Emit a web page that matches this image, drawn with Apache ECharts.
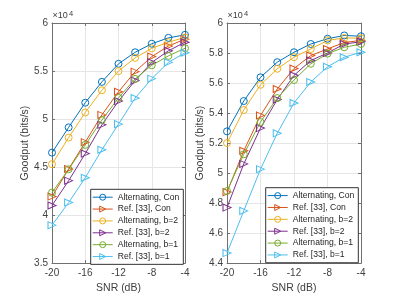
<!DOCTYPE html>
<html><head><meta charset="utf-8">
<script src="https://cdn.jsdelivr.net/npm/echarts@6/dist/echarts.min.js"></script>
<style>html,body{margin:0;padding:0;background:#fff}#c{width:399px;height:299px}</style>
</head><body><div id="c"></div>
<script>
// SNR (dB) categories on the x axis
const snr = [-20, -18, -16, -14, -12, -10, -8, -6, -4];
const seriesNames = ['Alternating, Con', 'Ref. [33], Con', 'Alternating, b=2', 'Ref. [33], b=2', 'Alternating, b=1', 'Ref. [33], b=1'];
const seriesColors = ['#0072BD', '#D95319', '#EDB120', '#7E2F8E', '#77AC30', '#4DBEEE'];
const seriesMarkers = ['circle', 'triangle', 'circle', 'triangle', 'circle', 'triangle'];

// Left panel goodput (bits/s)
const leftAltCon = [46500, 49130, 51700, 53870, 55750, 56950, 57840, 58450, 58770];
const leftRefCon = [41930, 44800, 47590, 50430, 52840, 54930, 56500, 57600, 58320];
const leftAltB2  = [45300, 48070, 50680, 53000, 55000, 56370, 57360, 58000, 58500];
const leftRefB2  = [41000, 43580, 46400, 49400, 51870, 54000, 55900, 57100, 58000];
const leftAltB1  = [42340, 44770, 47310, 49890, 52200, 54180, 55600, 56570, 57370];
const leftRefB1  = [38950, 41300, 43890, 46800, 49470, 52180, 54200, 55900, 56900];

// Right panel goodput (bits/s)
const rightAltCon = [52780, 54800, 56380, 57390, 58050, 58600, 58950, 59170, 59120];
const rightRefCon = [48730, 51480, 53840, 55600, 56970, 57830, 58270, 58700, 58840];
const rightAltB2  = [52000, 54200, 55880, 56950, 57720, 58270, 58840, 59000, 58990];
const rightRefB2  = [47700, 50610, 53000, 54900, 56510, 57500, 58000, 58600, 58750];
const rightAltB1  = [48800, 51250, 53400, 55000, 56200, 57280, 57960, 58380, 58600];
const rightRefB1  = [44670, 47480, 50260, 52650, 54670, 56070, 57080, 57720, 58050];

// Axis ticks
const xTicks = { min: -20, max: -4, interval: 4 };
const leftYTicks = { min: 35000, max: 60000, interval: 5000 };
const rightYTicks = { min: 44000, max: 60000, interval: 2000 };

const leftData = [leftAltCon, leftRefCon, leftAltB2, leftRefB2, leftAltB1, leftRefB1];
const rightData = [rightAltCon, rightRefCon, rightAltB2, rightRefB2, rightAltB1, rightRefB1];

const FONT = '"Liberation Sans", Arial, Helvetica, sans-serif';
const AX = '#707070';
const TXT = '#404040';

function mkSeries(gi, dataSets) {
  return dataSets.map((vals, k) => ({
    type: 'line',
    name: seriesNames[k],
    xAxisIndex: gi, yAxisIndex: gi,
    data: snr.map((s, i) => [s, vals[i]]),
    color: seriesColors[k],
    symbol: seriesMarkers[k],
    symbolSize: seriesMarkers[k] === 'circle' ? 7 : [7, 8],
    symbolRotate: seriesMarkers[k] === 'triangle' ? -90 : 0,
    showAllSymbol: true,
    clip: false,
    animation: false,
    lineStyle: { color: seriesColors[k], width: 1 },
    itemStyle: { color: 'rgba(255,255,255,0)', borderColor: seriesColors[k], borderWidth: 1 },
    emphasis: { disabled: true }
  }));
}

function xMain(gi) {
  return {
    gridIndex: gi, type: 'value', position: 'bottom',
    min: xTicks.min, max: xTicks.max, interval: xTicks.interval,
    axisLine: { show: true, onZero: false, lineStyle: { color: AX, width: 1 } },
    axisTick: { show: true, inside: true, length: 3, lineStyle: { color: AX } },
    axisLabel: { color: TXT, fontSize: 10, fontFamily: FONT, margin: 5 },
    splitLine: { show: true, lineStyle: { color: '#e6e6e6', width: 1 } },
    name: 'SNR (dB)', nameLocation: 'middle', nameGap: 15.5,
    nameTextStyle: { color: TXT, fontSize: 10.5, fontFamily: FONT }
  };
}
function xTop(gi) {
  return {
    gridIndex: gi, type: 'value', position: 'top',
    min: xTicks.min, max: xTicks.max, interval: xTicks.interval,
    axisLine: { show: true, onZero: false, lineStyle: { color: AX, width: 1 } },
    axisTick: { show: true, inside: true, length: 3, lineStyle: { color: AX } },
    axisLabel: { show: false }, splitLine: { show: false }
  };
}
function yMain(gi, t) {
  return {
    gridIndex: gi, type: 'value', position: 'left',
    min: t.min, max: t.max, interval: t.interval,
    axisLine: { show: true, onZero: false, lineStyle: { color: AX, width: 1 } },
    axisTick: { show: true, inside: true, length: 3, lineStyle: { color: AX } },
    axisLabel: { color: TXT, fontSize: 10, fontFamily: FONT, margin: 4,
      formatter: v => String(+(v / 10000).toFixed(2)) },
    splitLine: { show: true, lineStyle: { color: '#e6e6e6', width: 1 } },
    name: 'Goodput (bits/s)', nameLocation: 'middle', nameGap: 20.5,
    nameTextStyle: { color: TXT, fontSize: 10.5, fontFamily: FONT }
  };
}
function yRight(gi, t) {
  return {
    gridIndex: gi, type: 'value', position: 'right',
    min: t.min, max: t.max, interval: t.interval,
    axisLine: { show: true, onZero: false, lineStyle: { color: AX, width: 1 } },
    axisTick: { show: true, inside: true, length: 3, lineStyle: { color: AX } },
    axisLabel: { show: false }, splitLine: { show: false }
  };
}
function mkLegend(left, top) {
  return {
    orient: 'vertical', left: left, top: top,
    data: seriesNames,
    itemWidth: 20, itemHeight: 7.5, itemGap: 2.87,
    padding: [3.4, 4, 3.3, 1.5],
    backgroundColor: '#fff', borderColor: '#333', borderWidth: 1,
    textStyle: { fontSize: 8.6, lineHeight: 9, color: '#262626', fontFamily: FONT },
    itemStyle: { color: 'rgba(255,255,255,0)', borderWidth: 1 },
    lineStyle: { width: 1 },
    selectedMode: false
  };
}
function expTitles(left) {
  return [
    { text: '×10', left: left, top: 11.5, padding: 0,
      textStyle: { fontSize: 9, fontWeight: 'normal', color: TXT, fontFamily: FONT } },
    { text: '4', left: left + 16.5, top: 9.5, padding: 0,
      textStyle: { fontSize: 7.5, fontWeight: 'normal', color: TXT, fontFamily: FONT } }
  ];
}

const chart = echarts.init(document.getElementById('c'), null, { renderer: 'canvas' });
chart.setOption({
  animation: false,
  backgroundColor: '#fff',
  title: [...expTitles(52.5), ...expTitles(227.5)],
  grid: [
    { left: 52, top: 23, width: 133, height: 243 },
    { left: 227, top: 23, width: 134, height: 243 }
  ],
  xAxis: [xMain(0), xMain(1), xTop(0), xTop(1)],
  yAxis: [yMain(0, leftYTicks), yMain(1, rightYTicks), yRight(0, leftYTicks), yRight(1, rightYTicks)],
  legend: [mkLegend(90.7, 189.3), mkLegend(265.7, 187.7)],
  series: [...mkSeries(0, leftData), ...mkSeries(1, rightData)]
});
</script>
</body></html>
